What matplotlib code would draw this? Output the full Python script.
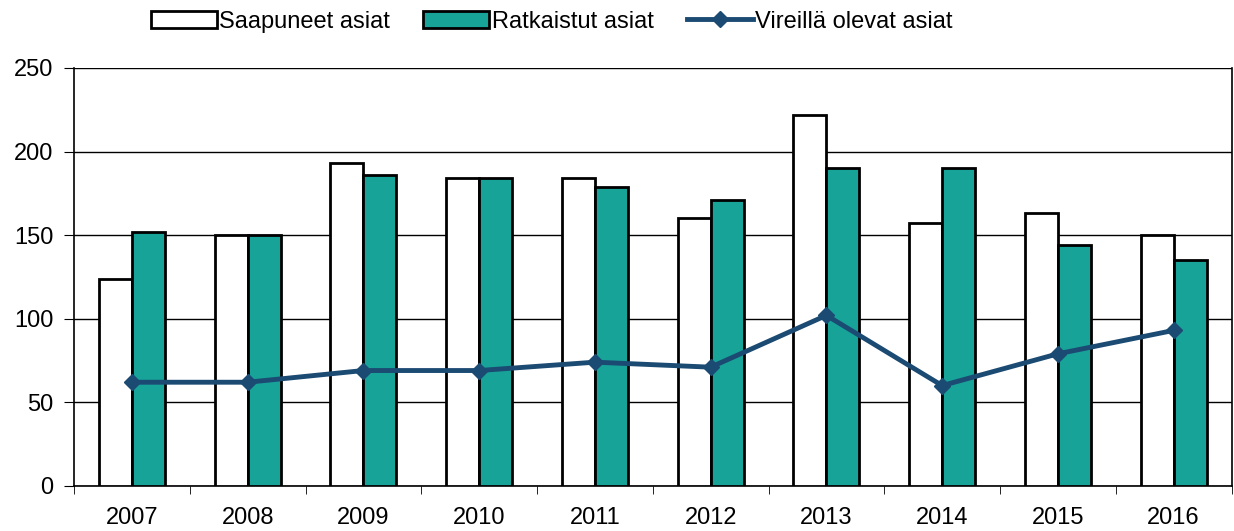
import matplotlib
matplotlib.use("Agg")
import matplotlib.pyplot as plt
import numpy as np

plt.rcParams['font.family'] = ['Liberation Sans', 'DejaVu Sans']

years = ['2007', '2008', '2009', '2010', '2011', '2012', '2013', '2014', '2015', '2016']
saapuneet = [124, 150, 193, 184, 184, 160, 222, 157, 163, 150]
ratkaistut = [152, 150, 186, 184, 179, 171, 190, 190, 144, 135]
vireilla = [62, 62, 69, 69, 74, 71, 102, 60, 79, 93]

fig = plt.figure(figsize=(12.34, 5.31), dpi=100)
ax = fig.add_axes([0.060, 0.085, 0.938, 0.787])

x = np.arange(len(years))
w = 0.285
b1 = ax.bar(x - w / 2, saapuneet, w, color='white', edgecolor='black', linewidth=2,
            label='Saapuneet asiat', zorder=3)
b2 = ax.bar(x + w / 2, ratkaistut, w, color='#17a398', edgecolor='black', linewidth=2,
            label='Ratkaistut asiat', zorder=3)
l1, = ax.plot(x, vireilla, color='#1b4a72', linewidth=3.5, marker='D', markersize=8,
              label='Vireillä olevat asiat', zorder=4)

ax.set_xlim(-0.5, len(years) - 0.5)
ax.set_ylim(0, 250)
ax.set_yticks([0, 50, 100, 150, 200, 250])
ax.yaxis.grid(True, color='black', linewidth=1)
ax.set_axisbelow(True)

ax.set_xticks(x)
ax.set_xticklabels(years)
ax.tick_params(axis='x', length=0, labelsize=17, pad=15)
ax.set_xticks(np.arange(-0.5, len(years), 1), minor=True)
ax.tick_params(axis='x', which='minor', length=6, direction='out', color='black')
ax.tick_params(axis='y', labelsize=17, length=7, direction='out', pad=8)

ax.spines['top'].set_visible(False)
ax.spines['left'].set_linewidth(1.2)
ax.spines['right'].set_linewidth(1.2)
ax.spines['bottom'].set_linewidth(1.2)

fig.legend(handles=[b1, b2, l1], loc='upper center', bbox_to_anchor=(0.447, 1.02),
           ncol=3, frameon=False, fontsize=17, handlelength=2.8, handleheight=0.7,
           handletextpad=0.1, columnspacing=1.4)

fig.savefig('out.png', dpi=100)
